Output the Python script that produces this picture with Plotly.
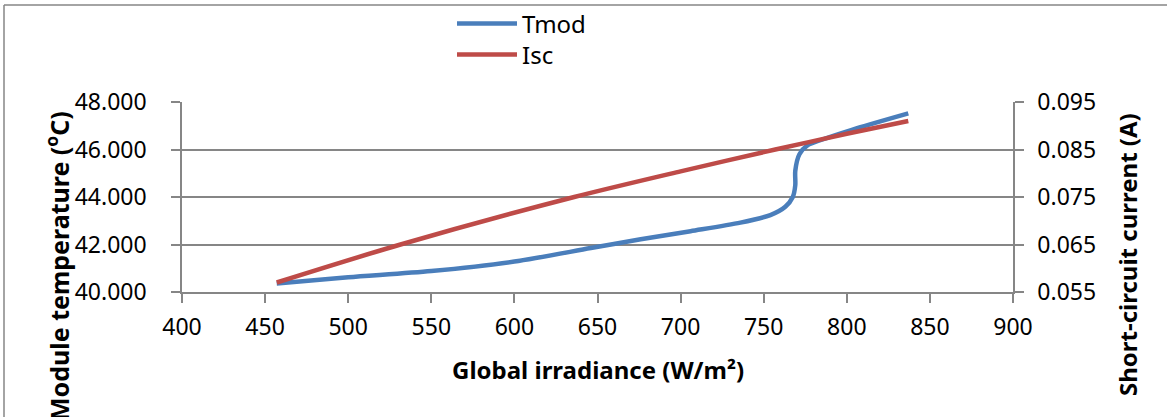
import plotly.graph_objects as go

# Data
tmod_irr = [457, 500, 550, 600, 646, 676, 706, 736, 754, 763, 767.5, 769, 769, 771.5, 776.5, 784.5, 802.6, 837]
tmod_val = [40.36, 40.62, 40.88, 41.28, 41.85, 42.22, 42.56, 42.92, 43.24, 43.59, 44.00, 44.5, 45.1, 45.8, 46.18, 46.40, 46.82, 47.52]

isc_irr = [457, 531.5, 636, 700, 757, 800, 837]
isc_val = [0.0570, 0.0650, 0.0750, 0.0804, 0.0850, 0.0883, 0.0910]

x_ticks = [400, 450, 500, 550, 600, 650, 700, 750, 800, 850, 900]
y_left_ticks = [40, 42, 44, 46, 48]
y_right_ticks = [0.055, 0.065, 0.075, 0.085, 0.095]

BLUE = "#4A7EBB"
RED = "#BE4B48"
GRAY = "#868686"
FONT = "Noto Sans"

fig = go.Figure()
fig.add_trace(go.Scatter(x=tmod_irr, y=tmod_val, name="Tmod", mode="lines", legend="legend",
                         line=dict(color=BLUE, width=4.5, shape="spline", smoothing=0.8)))
fig.add_trace(go.Scatter(x=isc_irr, y=isc_val, name="Isc", mode="lines", yaxis="y2",
                         legend="legend2",
                         line=dict(color=RED, width=4.5, shape="spline", smoothing=0.8)))

W, H = 1167, 417
L, R, T, B = 182, 1013, 102, 292
pw, ph = R - L, B - T

def px(x):
    return (x - L) / pw

def py(y):
    return (B - y) / ph

legend_common = dict(xanchor="left", yanchor="middle", font=dict(size=24, family=FONT),
                     bgcolor="rgba(0,0,0,0)", itemwidth=60)

fig.update_layout(
    width=W, height=H,
    margin=dict(l=L, r=W - R, t=T, b=H - B, autoexpand=False),
    paper_bgcolor="white", plot_bgcolor="white",
    font=dict(family=FONT, size=23, color="black"),
    showlegend=True,
    legend=dict(x=px(452), y=py(24), **legend_common),
    legend2=dict(x=px(452), y=py(55), **legend_common),
    xaxis=dict(range=[400, 900], tickvals=x_ticks, ticks="outside", ticklen=9,
               tickcolor=GRAY, tickwidth=1.5, showline=True, linecolor=GRAY, linewidth=1.5,
               showgrid=False, zeroline=False, ticklabelstandoff=5, automargin=False),
    yaxis=dict(range=[40, 48], tickvals=y_left_ticks, tickformat=".3f", ticks="outside",
               ticklen=9, tickcolor=GRAY, tickwidth=1.5, showline=True, linecolor=GRAY,
               linewidth=1.5, showgrid=True, gridcolor=GRAY, gridwidth=1.5, zeroline=False,
               ticklabelstandoff=20, automargin=False),
    yaxis2=dict(range=[0.055, 0.095], tickvals=y_right_ticks, tickformat=".3f",
                overlaying="y", side="right", ticks="outside", ticklen=9, tickcolor=GRAY,
                tickwidth=1.5, showline=True, linecolor=GRAY, linewidth=1.5, showgrid=False,
                zeroline=False, ticklabelstandoff=9, automargin=False),
    annotations=[
        dict(text="<b>Global irradiance (W/m²)</b>", x=px(598), y=py(369), xref="paper",
             yref="paper", showarrow=False, xanchor="center", yanchor="middle",
             font=dict(size=24, family=FONT)),
        dict(text="<b>Module temperature (<sup>o</sup>C)</b>", x=px(57), y=py(266),
             xref="paper", yref="paper", showarrow=False, textangle=-90,
             xanchor="center", yanchor="middle", font=dict(size=25, family=FONT)),
        dict(text="<b>Short-circuit current (A)</b>", x=px(1127), y=py(255),
             xref="paper", yref="paper", showarrow=False, textangle=-90,
             xanchor="center", yanchor="middle", font=dict(size=24, family=FONT)),
    ],
    shapes=[
        dict(type="line", xref="paper", yref="paper", x0=px(4), x1=px(1200), y0=py(5), y1=py(5),
             line=dict(color=GRAY, width=1.5)),
        dict(type="line", xref="paper", yref="paper", x0=px(4), x1=px(4), y0=py(5), y1=py(430),
             line=dict(color=GRAY, width=1.5)),
    ],
)

fig.write_html("out.html", config={"displayModeBar": False},
               post_script="document.body.style.margin='0px';document.body.style.overflow='hidden';")
